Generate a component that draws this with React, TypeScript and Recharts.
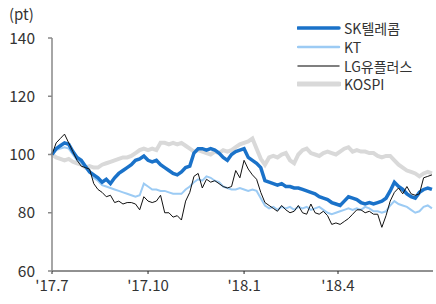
import React from "react";
import { LineChart, Line, XAxis, YAxis } from "recharts";

// days since 2017-07-01, every 4 days
const days = Array.from({ length: 92 }, (_, i) => i * 4);

const sk = [
  100, 102, 103, 104, 103.5, 101, 99, 98, 96, 94, 93, 92, 90.5, 91.5, 90, 92, 93.5, 94.5, 95.5, 96.5,
  98, 98.5, 99.5, 98, 97.5, 98, 96.5, 95.5, 94.5, 93.5, 93, 94, 95.5, 96, 100.5, 102, 102, 101.5, 102, 101.5,
  100.5, 99, 98, 100, 101, 101.5, 102, 99, 98, 97, 95.5, 91, 90.5, 90, 89.5, 90, 89, 89, 88.5, 88.5,
  88, 87.5, 87, 86.5, 85.5, 85, 84.5, 83.5, 83, 82.5, 84, 85.5, 85, 84.5, 83.5, 83, 83.5, 83, 83.5, 84,
  85, 87.5, 90.5, 89, 88, 86.5, 85.5, 85, 87, 88, 88.5, 88,
];
const kt = [
  100, 101.5, 102, 102.5, 102, 100, 98, 97, 95.5, 94, 92, 91, 89.5, 89, 88.5, 88, 87.5, 87, 86.5, 86,
  85.5, 86, 90, 89, 88, 88, 87.5, 87.5, 87, 86.5, 86.5, 86.5, 88, 89, 90.5, 91.5, 91, 92.5, 92, 91,
  90.5, 89, 88.5, 88, 88, 88.5, 88, 87.5, 88, 87.5, 85, 82.5, 81.5, 82, 81, 82, 81.5, 82, 81, 82,
  81.5, 82, 81, 81.5, 82, 81, 80, 79.5, 80, 80.5, 81, 81.5, 81, 81.5, 81, 82, 81.5, 80.5, 80.5, 80,
  80.5, 82.5, 84, 83, 82.5, 82, 81, 80, 80.5, 82, 82.5, 81.5,
];
const lg = [
  100, 104, 105.5, 107, 104, 101, 98, 96, 95.5, 95, 90, 88, 87, 85.5, 86, 83.5, 84, 83, 83.5, 83.5,
  83, 81, 85.5, 84, 83.5, 84, 86, 80, 80, 78.5, 79, 77.5, 84, 87, 92.5, 93.5, 88.5, 91.5, 90.5, 91,
  90, 89, 88.5, 89, 94.5, 92, 98, 95, 93, 91.5, 87, 83.5, 82.5, 81.5, 80.5, 82.5, 81, 80, 80.5, 82.5,
  80, 79.5, 83, 80, 79.5, 80.5, 79, 76, 76.5, 76, 77, 78, 79.5, 81, 81, 80, 80.5, 79.5, 79.5, 75,
  79, 84, 87, 88.5, 86.5, 89, 86.5, 86, 86.5, 92, 92.5, 93,
];
const kospi = [
  100, 99, 98.5, 98, 98.5, 97.5, 97, 96.5, 95.5, 96, 95.5, 95.5, 96.5, 97, 97.5, 98, 98.5, 99, 99, 99.5,
  100.5, 101.5, 102, 101.5, 102, 101.5, 104, 104, 103.5, 104, 103.5, 104, 103, 102, 101, 101.5, 101, 100.5, 100, 101,
  100.5, 101.5, 101, 101.5, 102.5, 103.5, 104, 104.5, 105.5, 102, 98.5, 96.5, 99, 99.5, 99, 100, 100.5, 98, 97, 100,
  101.5, 102, 100.5, 100, 99.5, 100.5, 101, 100.5, 100, 101, 102, 102.5, 101, 101.5, 101, 101, 100.5, 100.5, 99.5, 99,
  99.5, 99.5, 98, 96.5, 95.5, 94.5, 94, 93.5, 92.5, 93.5, 94, 93.5,
];

const xTicks = [0, 92, 184, 274];
const xLabels = ["'17.7", "'17.10", "'18.1", "'18.4"];
const yTicks = [60, 80, 100, 120, 140];

const series = [
  { key: "sk", name: "SK텔레콤", color: "#1A72C9", width: 3.5 },
  { key: "kt", name: "KT", color: "#9CCBF4", width: 2 },
  { key: "lg", name: "LG유플러스", color: "#111111", width: 1 },
  { key: "kospi", name: "KOSPI", color: "#D9D9D9", width: 4 },
];

const legendWidth: Record<string, number> = { sk: 3.5, kt: 2.5, lg: 1.5, kospi: 5 };
const legendColor: Record<string, string> = { lg: "#555555" };

const rows = days.map((d, i) => ({
  day: d,
  sk: sk[i],
  kt: kt[i],
  lg: lg[i],
  kospi: kospi[i],
}));

const FONT = "'Noto Sans CJK KR', 'Noto Sans', sans-serif";

export default function App() {
  const drawOrder = ["kospi", "kt", "sk", "lg"];
  return (
    <div style={{ position: "absolute", left: 0, top: 0, width: 436, height: 304, background: "#fff", fontFamily: FONT }}>
      <div style={{ position: "absolute", left: 9, top: 3, fontSize: 15, color: "#333" }}>(pt)</div>
      <div style={{ position: "absolute", left: 297, top: 19, zIndex: 2 }}>
        {series.map((s) => (
          <div key={s.key} style={{ display: "flex", alignItems: "center", height: 18.7 }}>
            <svg width={44} height={10}>
              <line x1={1} x2={42} y1={5} y2={5} stroke={legendColor[s.key] ?? s.color} strokeWidth={legendWidth[s.key]} strokeLinecap="round" />
            </svg>
            <span style={{ fontSize: 14, color: "#333", marginLeft: 3, lineHeight: "16px" }}>{s.name}</span>
          </div>
        ))}
      </div>
      <LineChart width={436} height={304} data={rows} margin={{ top: 38, right: 3, bottom: 0, left: 0 }}>
        <XAxis
          dataKey="day"
          type="number"
          domain={[0, 365]}
          ticks={xTicks}
          tickFormatter={(v: number) => xLabels[xTicks.indexOf(v)] ?? ""}
          height={33}
          tickSize={3}
          tickMargin={6}
          stroke="#222"
          tick={{ fill: "#333", fontSize: 15, fontFamily: FONT }}
        />
        <YAxis
          domain={[60, 140]}
          ticks={yTicks}
          width={52}
          tickSize={4}
          tickMargin={13}
          stroke="#888"
          strokeWidth={1.5}
          tick={{ fill: "#333", fontSize: 15.5, fontFamily: FONT }}
        />
        {drawOrder.map((k) => {
          const s = series.find((x) => x.key === k)!;
          return (
            <Line
              key={k}
              dataKey={k}
              type="linear"
              stroke={s.color}
              strokeWidth={s.width}
              dot={false}
              isAnimationActive={false}
            />
          );
        })}
      </LineChart>
    </div>
  );
}
